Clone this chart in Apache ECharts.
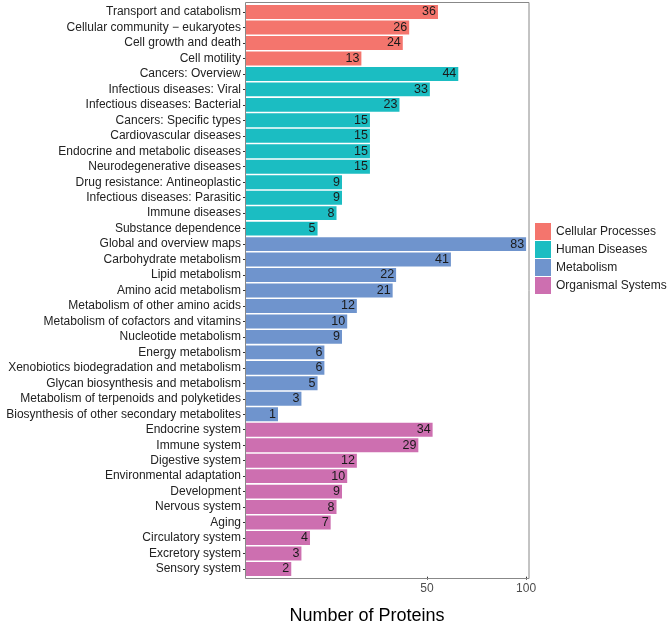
<!DOCTYPE html>
<html><head><meta charset="utf-8">
<script src="https://cdn.jsdelivr.net/npm/echarts@6/dist/echarts.min.js"></script>
<style>html,body{margin:0;padding:0;background:#fff}#c{width:669px;height:622px}</style>
</head><body><div id="c"></div>
<script>
const groupNames = ['Cellular Processes','Human Diseases','Metabolism','Organismal Systems'];
const groupColors = ['#F4756D','#1BBDC2','#6F94CD','#CD6FB0'];

const cellularCats = ['Transport and catabolism','Cellular community \u2212 eukaryotes','Cell growth and death','Cell motility'];
const cellularVals = [36,26,24,13];
const humanCats = ['Cancers: Overview','Infectious diseases: Viral','Infectious diseases: Bacterial','Cancers: Specific types','Cardiovascular diseases','Endocrine and metabolic diseases','Neurodegenerative diseases','Drug resistance: Antineoplastic','Infectious diseases: Parasitic','Immune diseases','Substance dependence'];
const humanVals = [44,33,23,15,15,15,15,9,9,8,5];
const metabCats = ['Global and overview maps','Carbohydrate metabolism','Lipid metabolism','Amino acid metabolism','Metabolism of other amino acids','Metabolism of cofactors and vitamins','Nucleotide metabolism','Energy metabolism','Xenobiotics biodegradation and metabolism','Glycan biosynthesis and metabolism','Metabolism of terpenoids and polyketides','Biosynthesis of other secondary metabolites'];
const metabVals = [83,41,22,21,12,10,9,6,6,5,3,1];
const organCats = ['Endocrine system','Immune system','Digestive system','Environmental adaptation','Development','Nervous system','Aging','Circulatory system','Excretory system','Sensory system'];
const organVals = [34,29,12,10,9,8,7,4,3,2];

// square-root scale; bars beyond the scale limit are squished to it
const scaleLimit = 76.6;
const axisMax = 78.2;
const tickAt = [32.0, 76.6];
const tickLabels = ['50','100'];

const groupsCats = [cellularCats, humanCats, metabCats, organCats];
const groupsVals = [cellularVals, humanVals, metabVals, organVals];
const categories = [].concat(...groupsCats);

const tr = v => Math.sqrt(v);

const series = groupNames.map((g, gi) => {
  const data = categories.map(c => {
    const idx = groupsCats[gi].indexOf(c);
    if (idx < 0) return null;
    const v = groupsVals[gi][idx];
    return {value: tr(Math.min(v, scaleLimit)), raw: v};
  });
  return {
    name: g, type: 'bar', stack: 'all', data,
    barCategoryGap: '10%',
    itemStyle: {color: groupColors[gi]},
    label: {show: true, position: 'insideRight', distance: 2,
      formatter: p => p.data ? p.data.raw : '',
      color: '#1a1a1a', fontSize: 12.5, fontFamily: 'Liberation Sans'}
  };
});

const chart = echarts.init(document.getElementById('c'));
chart.setOption({
  animation: false,
  textStyle: {fontFamily: 'Liberation Sans'},
  grid: {left: 246, width: 283, top: 4.3, height: 572.4, containLabel: false, outerBoundsMode: 'none'},
  xAxis: {
    type: 'value', min: 0, max: tr(axisMax),
    splitLine: {show: false},
    axisLine: {show: false},
    axisTick: {show: true, length: 3, lineStyle: {color: '#333'}, customValues: tickAt.map(tr)},
    axisLabel: {show: true, fontSize: 12, color: '#4d4d4d', margin: 6, showMaxLabel: true,
      customValues: tickAt.map(tr),
      formatter: (v) => {
        const i = tickAt.map(tr).findIndex(t => Math.abs(t - v) < 1e-6);
        return i >= 0 ? tickLabels[i] : '';
      }},
    name: 'Number of Proteins', nameLocation: 'middle', nameGap: 30,
    nameTextStyle: {fontSize: 18, color: '#000', fontFamily: 'Liberation Sans', padding: [0, 41, 0, 0]}
  },
  yAxis: {
    type: 'category', data: categories, inverse: true,
    axisLine: {show: false},
    axisTick: {show: true, length: 3, alignWithLabel: true, interval: 0, lineStyle: {color: '#333'}},
    axisLabel: {fontSize: 12, color: '#222', margin: 5, interval: 0}
  },
  legend: {
    orient: 'vertical', left: 535, top: 223, padding: 0,
    itemWidth: 16, itemHeight: 17, itemGap: 1, icon: 'rect',
    textStyle: {fontSize: 12, color: '#222', padding: [0,0,0,0]},
    data: groupNames
  },
  graphic: [{
    type: 'rect', z: 100, silent: true,
    shape: {x: 245.5, y: 2.5, width: 283.5, height: 576},
    style: {fill: 'none', stroke: '#888', lineWidth: 1}
  }],
  series
});
</script></body></html>
